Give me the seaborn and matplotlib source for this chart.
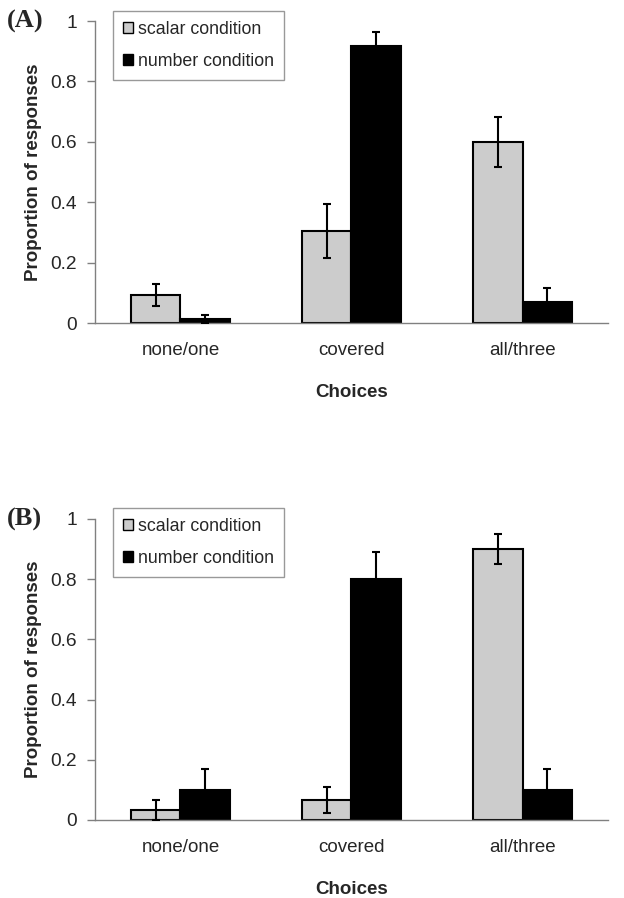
import numpy as np
import pandas as pd
import matplotlib
matplotlib.use("Agg")
import matplotlib.pyplot as plt
import seaborn as sns
from matplotlib.ticker import FixedLocator

categories = ["none/one", "covered", "all/three"]
conditions = ["scalar condition", "number condition"]

a_scalar = [0.093, 0.305, 0.600]
a_scalar_err = [0.037, 0.090, 0.083]
a_number = [0.013, 0.918, 0.070]
a_number_err = [0.013, 0.047, 0.047]

b_scalar = [0.033, 0.067, 0.900]
b_scalar_err = [0.033, 0.044, 0.050]
b_number = [0.100, 0.800, 0.100]
b_number_err = [0.070, 0.089, 0.070]

panel_labels = ["(A)", "(B)"]
y_ticks = [0, 0.2, 0.4, 0.6, 0.8, 1]
y_tick_labels = ["0", "0.2", "0.4", "0.6", "0.8", "1"]
x_title = "Choices"
y_title = "Proportion of responses"

colors = {"scalar condition": "#cccccc", "number condition": "#000000"}

sns.set_style("white")
plt.rcParams["font.family"] = ["Liberation Sans", "DejaVu Sans"]

fig = plt.figure(figsize=(6.24, 8.98), dpi=100)

panels = [
    (a_scalar, a_scalar_err, a_number, a_number_err, [0.1522, 0.6403, 0.8222, 0.3363], 0.9878),
    (b_scalar, b_scalar_err, b_number, b_number_err, [0.1522, 0.0869, 0.8222, 0.3352], 0.4343),
]

gray = "#808080"
for i, (sv, se, nv, ne, rect, leg_top) in enumerate(panels):
    ax = fig.add_axes(rect)
    df = pd.DataFrame({
        "choice": categories * 2,
        "condition": [conditions[0]] * 3 + [conditions[1]] * 3,
        "value": list(sv) + list(nv),
    })
    errs = [se, ne]
    sns.barplot(data=df, x="choice", y="value", hue="condition", order=categories,
                hue_order=conditions, palette=colors, width=0.58, errorbar=None,
                edgecolor="black", linewidth=1.5, saturation=1, ax=ax)
    for cont, err in zip(ax.containers, errs):
        xs = [b.get_x() + b.get_width() / 2 for b in cont]
        hs = [b.get_height() for b in cont]
        ax.errorbar(xs, hs, yerr=err, fmt="none", ecolor="black", elinewidth=1.5,
                    capsize=3, capthick=1.5, zorder=5)
    handles, labels = ax.get_legend_handles_labels()
    if ax.get_legend() is not None:
        ax.get_legend().remove()
    leg = ax.legend(handles, labels, loc="upper left",
                    bbox_to_anchor=(0.181, leg_top), bbox_transform=fig.transFigure,
                    borderaxespad=0, fontsize=12.8, handlelength=0.6, handleheight=0.6,
                    handletextpad=0.25, labelspacing=0.85, borderpad=0.55,
                    fancybox=False, frameon=True)
    leg.get_frame().set_edgecolor(gray)
    leg.get_frame().set_linewidth(1.0)
    for h in leg.legend_handles:
        h.set_edgecolor("black")
        h.set_linewidth(1.0)

    ax.set_xlim(-0.5, 2.5)
    ax.set_ylim(0, 1)
    ax.set_yticks(y_ticks)
    ax.set_yticklabels(y_tick_labels)
    ax.xaxis.set_minor_locator(FixedLocator([-0.5, 0.5, 1.5, 2.5]))
    ax.tick_params(axis="x", which="major", length=0, pad=14, labelsize=13.5)
    ax.tick_params(axis="x", which="minor", length=6, width=1, color=gray, direction="out")
    ax.tick_params(axis="y", length=6, width=1, color=gray, direction="out", pad=7,
                   labelsize=13.8, left=True)
    for s in ["top", "right"]:
        ax.spines[s].set_visible(False)
    for s in ["left", "bottom"]:
        ax.spines[s].set_color(gray)
        ax.spines[s].set_linewidth(1.0)
    ax.set_xlabel(x_title, fontsize=13.5, fontweight="bold", labelpad=18)
    ax.set_ylabel(y_title, fontsize=13.5, fontweight="bold", labelpad=6)
    ax.text(-0.172, 1.0, panel_labels[i], transform=ax.transAxes, ha="left", va="center",
            fontsize=19, fontweight="bold", family=["Liberation Serif", "DejaVu Serif"])

fig.savefig("out.png", dpi=100)
